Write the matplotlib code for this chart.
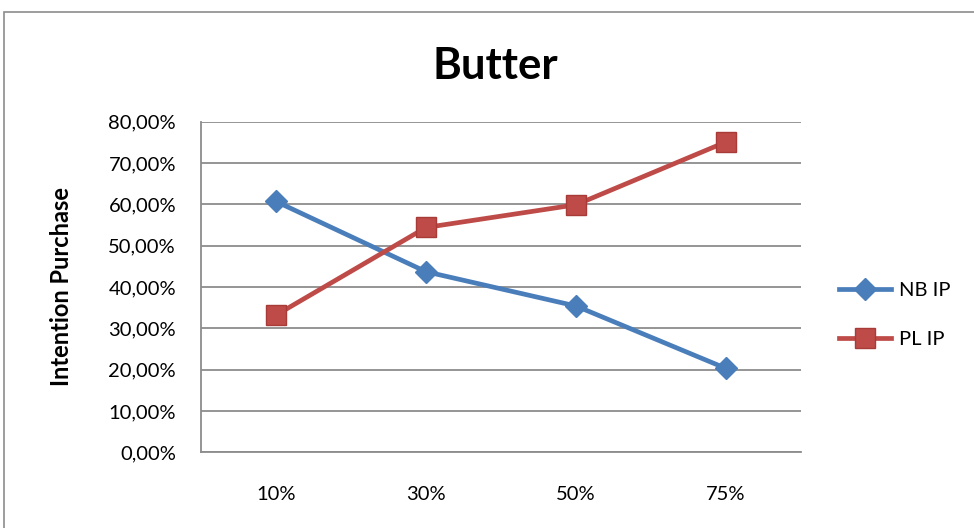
import matplotlib
matplotlib.use("Agg")
import matplotlib.pyplot as plt
from matplotlib.patches import Rectangle
from matplotlib.ticker import FuncFormatter

plt.rcParams['font.family'] = ['Lato', 'DejaVu Sans']

categories = ["10%", "30%", "50%", "75%"]
nb_ip = [60.7, 43.7, 35.4, 20.3]
pl_ip = [33.2, 54.4, 59.9, 75.1]
y_ticks = [0, 10, 20, 30, 40, 50, 60, 70, 80]

blue = "#4A7EBB"
red = "#BE4B48"
grid_gray = "#8C8C8C"

fig = plt.figure(figsize=(9.74, 5.28), dpi=100)
fig.patch.set_facecolor("white")

# outer chart frame
fig.patches.append(Rectangle((4 / 974, -0.05), 1.2, 1 - 12 / 528 + 0.05,
                             transform=fig.transFigure, fill=False,
                             edgecolor="#8C8C8C", linewidth=1.2))

ax = fig.add_axes([201 / 974, 1 - 452.3 / 528, 600 / 974, 330.6 / 528])
x = list(range(len(categories)))

ax.plot(x, nb_ip, color=blue, linewidth=3.4, marker="D", markersize=11,
        markerfacecolor=blue, markeredgecolor=blue, label="NB IP", zorder=3)
ax.plot(x, pl_ip, color=red, linewidth=3.4, marker="s", markersize=14,
        markerfacecolor=red, markeredgecolor="#A83A37", label="PL IP", zorder=3)

ax.set_xlim(-0.5, len(categories) - 0.5)
ax.set_ylim(0, 80)
ax.set_yticks(y_ticks)
ax.yaxis.set_major_formatter(FuncFormatter(lambda v, p: f"{v:.2f}%".replace(".", ",")))
ax.set_xticks(x)
ax.set_xticklabels(categories)

ax.grid(axis="y", color=grid_gray, linewidth=1.3)
ax.set_axisbelow(True)
for side in ("top", "right"):
    ax.spines[side].set_visible(False)
for side in ("left", "bottom"):
    ax.spines[side].set_color(grid_gray)
    ax.spines[side].set_linewidth(1.3)

ax.tick_params(axis="both", length=0, labelsize=14.5, colors="black")
ax.tick_params(axis="y", pad=18)
ax.tick_params(axis="x", pad=24)

ax.set_ylabel("Intention Purchase", fontsize=17, fontweight="bold")
ax.yaxis.set_label_coords(-128 / 600, 0.5)

fig.text(495 / 974, 1 - 66 / 528, "Butter", ha="center", va="center",
         fontsize=31.5, fontweight="bold")

ax.legend(loc="center left", bbox_to_anchor=(821 / 974, 1 - 315 / 528),
          bbox_transform=fig.transFigure, frameon=False, fontsize=14.5,
          handlelength=2.6, labelspacing=1.55, handletextpad=0.35)

fig.savefig("out.png", dpi=100)
